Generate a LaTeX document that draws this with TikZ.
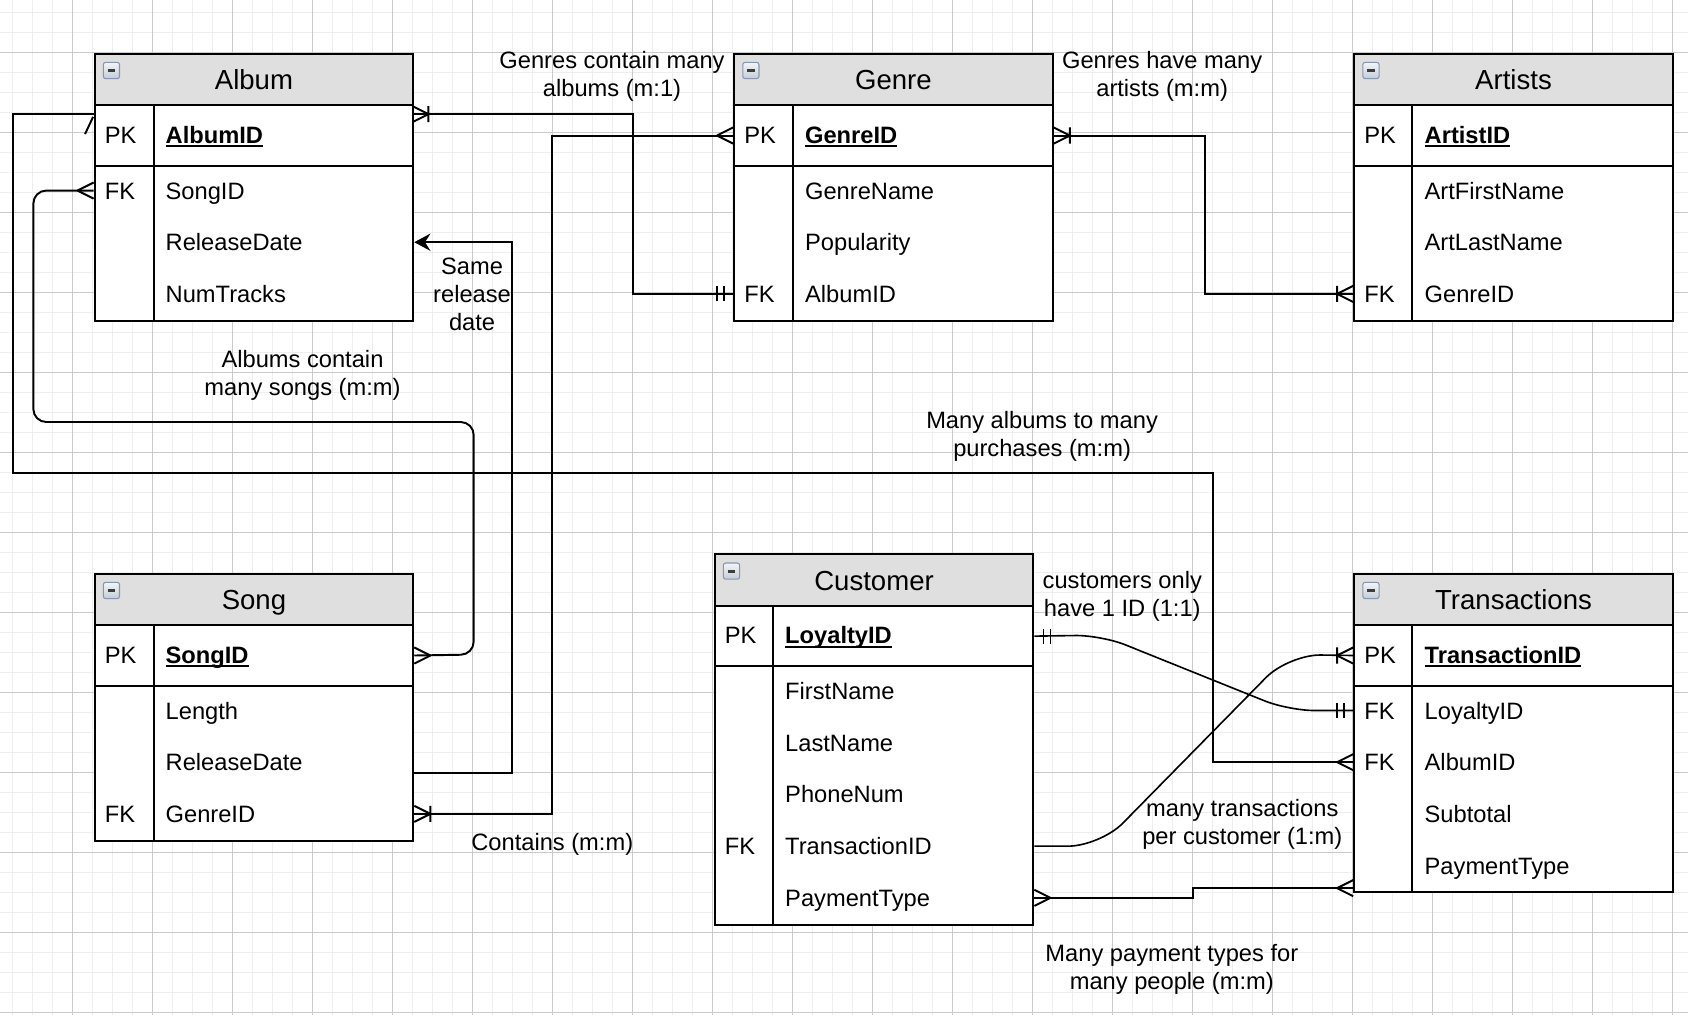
\documentclass[tikz,border=0pt]{standalone}
\usepackage{fontspec}
\setmainfont{Liberation Sans}
\usetikzlibrary{arrows.meta}

\definecolor{hdrfill}{HTML}{DFDFDF}
\definecolor{gridminor}{HTML}{EEEEEE}
\definecolor{gridmajor}{HTML}{CACACA}
\definecolor{iconedge}{HTML}{8796AB}
\definecolor{icontop}{HTML}{F2F5F8}
\definecolor{iconbot}{HTML}{C3CDD8}
\definecolor{iconbar}{HTML}{3C3C3C}

% bold, underlined primary-key name
\newcommand\pkname[1]{\setbox0\hbox{\bfseries #1}\rlap{\vrule height -0.9pt depth 1.8pt width \wd0}\box0}

\begin{document}
\begin{tikzpicture}[x=0.5pt,y=-0.5pt,
  frame/.style={draw=black,line width=0.9pt},
  conn/.style={draw=black,line width=0.9pt},
  curve/.style={draw=black,line width=0.75pt},
  hdr/.style={frame,fill=hdrfill,anchor=north west,inner sep=0pt,minimum width=148pt,minimum height=24pt,font=\fontsize{12.8}{15}\selectfont,text height=9.2pt,text depth=0pt},
  pkrow/.style={frame,fill=white,anchor=north west,inner sep=0pt,minimum width=148pt,minimum height=28pt},
  body/.style={frame,fill=white,anchor=north west,inner sep=0pt,minimum width=148pt},
  field/.style={anchor=west,inner sep=0pt,font=\fontsize{11}{13}\selectfont,text height=7.9pt,text depth=0pt},
  note/.style={align=center,inner sep=0pt,font=\fontsize{11}{13}\selectfont},
  crow/.pic={\draw[conn] (15,0) -- (0,-7.5) (15,0) -- (0,7.5);},
  crowbar/.pic={\draw[conn] (15,0) -- (0,-7.5) (15,0) -- (0,7.5) (15,-7.5) -- (15,7.5);},
  mandone/.pic={\draw[conn] (8.5,-7) -- (8.5,7) (15,-7) -- (15,7);},
  collapse/.pic={\draw[iconedge,line width=0.5pt,rounded corners=1pt,top color=icontop,bottom color=iconbot] (0,0) rectangle (15,15);
                 \draw[iconbar,line width=1.3pt] (4,7.5) -- (11,7.5);},
]
\path[use as bounding box] (0,0) rectangle (1568,943);
\fill[white] (0,0) rectangle (1568,943);

% background grid
\begin{scope}
\clip (0,0) rectangle (1568,943);
\foreach \k in {-4,...,84} \draw[gridminor,line width=0.45pt] ({67.5+\k*18.575},0) -- ({67.5+\k*18.575},943);
\foreach \k in {-3,...,49} \draw[gridminor,line width=0.45pt] (0,{49+\k*18.575}) -- (1568,{49+\k*18.575});
\foreach \k in {-1,...,21} \draw[gridmajor,line width=0.45pt] ({67.5+\k*74.3},0) -- ({67.5+\k*74.3},943);
\foreach \k in {-1,...,12} \draw[gridmajor,line width=0.45pt] (0,{49+\k*74.3}) -- (1568,{49+\k*74.3});
\end{scope}

% ---------- Album ----------
\node[hdr] (albumH) at (87,49) {Album};
\node[pkrow] (albumPK) at (87,97) {};
\node[body,minimum height=72pt] (albumB) at (87,153) {};
\draw[frame] (143,97) -- (143,297);
\pic at (96,58) {collapse};
\node[field] (albumK1) at (97,125) {PK};
\node[field] (albumId) at (153.5,125) {\pkname{AlbumID}};
\node[field] (albumK2) at (97,177) {FK};
\node[field] (albumSong) at (153.5,177) {SongID};
\node[field] (albumRel) at (153.5,225) {ReleaseDate};
\node[field] (albumNum) at (153.5,273) {NumTracks};

% ---------- Genre ----------
\node[hdr] (genreH) at (681,49) {Genre};
\node[pkrow] (genrePK) at (681,97) {};
\node[body,minimum height=72pt] (genreB) at (681,153) {};
\draw[frame] (737,97) -- (737,297);
\pic at (690,58) {collapse};
\node[field] (genreK1) at (691,125) {PK};
\node[field] (genreId) at (747.5,125) {\pkname{GenreID}};
\node[field] (genreName) at (747.5,177) {GenreName};
\node[field] (genrePop) at (747.5,225) {Popularity};
\node[field] (genreK2) at (691,273) {FK};
\node[field] (genreAlb) at (747.5,273) {AlbumID};

% ---------- Artists ----------
\node[hdr] (artistsH) at (1257,49) {Artists};
\node[pkrow] (artistsPK) at (1257,97) {};
\node[body,minimum height=72pt] (artistsB) at (1257,153) {};
\draw[frame] (1312,97) -- (1312,297);
\pic at (1266,58) {collapse};
\node[field] (artK1) at (1267,125) {PK};
\node[field] (artId) at (1323,125) {\pkname{ArtistID}};
\node[field] (artFirst) at (1323,177) {ArtFirstName};
\node[field] (artLast) at (1323,225) {ArtLastName};
\node[field] (artK2) at (1267,273) {FK};
\node[field] (artGen) at (1323,273) {GenreID};

% ---------- Song ----------
\node[hdr] (songH) at (87,532) {Song};
\node[pkrow] (songPK) at (87,580) {};
\node[body,minimum height=72pt] (songB) at (87,636) {};
\draw[frame] (143,580) -- (143,780);
\pic at (96,541) {collapse};
\node[field] (songK1) at (97,608) {PK};
\node[field] (songId) at (153.5,608) {\pkname{SongID}};
\node[field] (songLen) at (153.5,660) {Length};
\node[field] (songRel) at (153.5,708) {ReleaseDate};
\node[field] (songK2) at (97,756) {FK};
\node[field] (songGen) at (153.5,756) {GenreID};

% ---------- Customer ----------
\node[hdr] (custH) at (663,514) {Customer};
\node[pkrow] (custPK) at (663,562) {};
\node[body,minimum height=120pt] (custB) at (663,618) {};
\draw[frame] (718,562) -- (718,858);
\pic at (672,523) {collapse};
\node[field] (custK1) at (673,590) {PK};
\node[field] (custId) at (729,590) {\pkname{LoyaltyID}};
\node[field] (custFirst) at (729,642) {FirstName};
\node[field] (custLast) at (729,690) {LastName};
\node[field] (custPhone) at (729,738) {PhoneNum};
\node[field] (custK2) at (673,786) {FK};
\node[field] (custTid) at (729,786) {TransactionID};
\node[field] (custPay) at (729,834) {PaymentType};

% ---------- Transactions ----------
\node[hdr] (transH) at (1257,532) {Transactions};
\node[pkrow] (transPK) at (1257,580) {};
\node[body,minimum height=96pt] (transB) at (1257,636) {};
\draw[frame] (1312,580) -- (1312,828);
\pic at (1266,541) {collapse};
\node[field] (transK1) at (1267,608) {PK};
\node[field] (transId) at (1323,608) {\pkname{TransactionID}};
\node[field] (transK2) at (1267,660) {FK};
\node[field] (transLoy) at (1323,660) {LoyaltyID};
\node[field] (transK3) at (1267,708) {FK};
\node[field] (transAlb) at (1323,708) {AlbumID};
\node[field] (transSub) at (1323,756) {Subtotal};
\node[field] (transPay) at (1323,804) {PaymentType};

% ---------- relationships ----------
\coordinate (albumPortR) at (383,106);
\coordinate (albumPortL) at (87,106);
\coordinate (songRelPort) at (383,718);
\coordinate (transPayPort) at (1257,825);

% genres contain many albums
\draw[conn] (albumPortR) -- ++(205,0) |- (genreB.west |- genreAlb);
\pic at (albumPortR) {crowbar};
\pic[rotate=180] at (genreB.west |- genreAlb) {mandone};

% genre to song
\draw[conn] (genrePK.west) -- ++(-168,0) |- (songB.east |- songGen);
\pic[rotate=180] at (genrePK.west) {crow};
\pic at (songB.east |- songGen) {crowbar};

% genres have many artists
\draw[conn] (genrePK.east) -- ++(140.5,0) |- (artistsB.west |- artGen);
\pic at (genrePK.east) {crowbar};
\pic[rotate=180] at (artistsB.west |- artGen) {crowbar};

% same release date
\draw[conn,-{Stealth[length=7.5pt,width=8pt,inset=2.5pt]}] (songRelPort) -- ++(93,0) |- (albumB.east |- albumRel);

% albums contain many songs
\draw[conn,rounded corners=6pt] (albumB.west |- albumSong) -- (31,177) -- (31,392) -- (440,392) -- (440,608) -- (songPK.east);
\pic[rotate=180] at (albumB.west |- albumSong) {crow};
\pic at (songPK.east) {crow};

% many albums to many purchases
\draw[conn] (albumPortL) -- (12,106) -- (12,439) -- (1127,439) -- (1127,708) -- (transB.west |- transAlb);
\draw[conn] ([shift={(-0.5,2.5)}]albumPortL) -- ++(-7.5,16);
\pic[rotate=180] at (transB.west |- transAlb) {crow};

% customers only have one ID
\draw[curve,rounded corners=12pt] (custPK.east) -- (1023,590) -- (1197,660) -- (transB.west |- transLoy);
\pic at (custPK.east) {mandone};
\pic[rotate=180] at (transB.west |- transLoy) {mandone};

% many transactions per customer
\draw[curve,rounded corners=15pt] (custB.east |- custTid) -- (1022,786) -- (1197,608) -- (transPK.west);
\pic[rotate=180] at (transPK.west) {crowbar};

% payment types
\draw[conn] (custB.east |- custPay) -- (1108,834) |- (transPayPort);
\pic at (custB.east |- custPay) {crow};
\pic[rotate=180] at (transPayPort) {crow};

% ---------- relationship labels ----------
\node[note] (lblGenAlb) at (568.5,71) {Genres contain many\\albums (m:1)};
\node[note] (lblGenArt) at (1079.5,71) {Genres have many\\artists (m:m)};
\node[note] (lblSame) at (438.5,273) {Same\\release\\date};
\node[note] (lblAlbSong) at (281,349) {Albums contain\\many songs (m:m)};
\node[note] (lblAlbPur) at (968,405) {Many albums to many\\purchases (m:m)};
\node[note] (lblContains) at (513,784) {Contains (m:m)};
\node[note] (lblCust) at (1042.5,554) {customers only\\have 1 ID (1:1)};
\node[note] (lblTrans) at (1154,766) {many transactions\\per customer (1:m)};
\node[note] (lblPay) at (1088.5,900) {Many payment types for\\many people (m:m)};
\end{tikzpicture}
\end{document}
